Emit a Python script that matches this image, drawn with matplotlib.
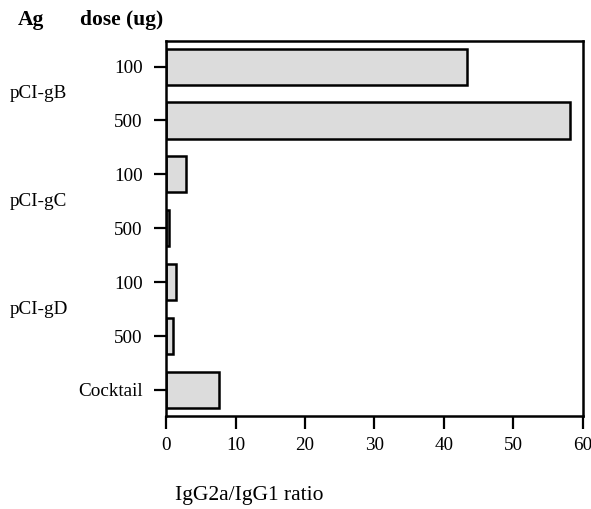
import matplotlib.pyplot as plt
import matplotlib.transforms as mtransforms

plt.rcParams['font.family'] = ['Liberation Serif', 'DejaVu Serif']

dose_labels = ["100", "500", "100", "500", "100", "500", "Cocktail"]
ratios = [43.3, 58.2, 2.9, 0.4, 1.4, 1.0, 7.6]
antigens = ["pCI-gB", "pCI-gC", "pCI-gD"]
antigen_rows = [0.5, 2.5, 4.5]
x_ticks = [0, 10, 20, 30, 40, 50, 60]

fig = plt.figure(figsize=(5.91, 5.09), dpi=100)
ax = fig.add_axes([0.281, 0.183, 0.705, 0.736])

ypos = list(range(len(ratios)))
ax.barh(ypos, ratios, height=0.67, color="#dcdcdc", edgecolor="black", linewidth=1.8)

ax.set_xlim(0, 60)
ax.set_ylim(6.48, -0.47)
ax.set_xticks(x_ticks)
ax.set_yticks(ypos)
ax.set_yticklabels(dose_labels)
ax.tick_params(axis="both", direction="out", length=9, width=1.6, labelsize=13.8, colors="black")
ax.tick_params(axis="y", pad=8)
ax.tick_params(axis="x", pad=6)
for sp in ax.spines.values():
    sp.set_linewidth(1.8)

# antigen names sit to the left of the dose labels, between their two rows
trans = mtransforms.blended_transform_factory(fig.transFigure, ax.transData)
for name, row in zip(antigens, antigen_rows):
    ax.text(0.017, row, name, transform=trans, ha="left", va="center", fontsize=13.8)

fig.text(0.03, 0.96, "Ag", fontsize=15.5, fontweight="bold", ha="left", va="center")
fig.text(0.135, 0.96, "dose (ug)", fontsize=15.5, fontweight="bold", ha="left", va="center")
fig.text(0.296, 0.027, "IgG2a/IgG1 ratio", fontsize=15.5, ha="left", va="center")

fig.savefig("out.png", dpi=100)
